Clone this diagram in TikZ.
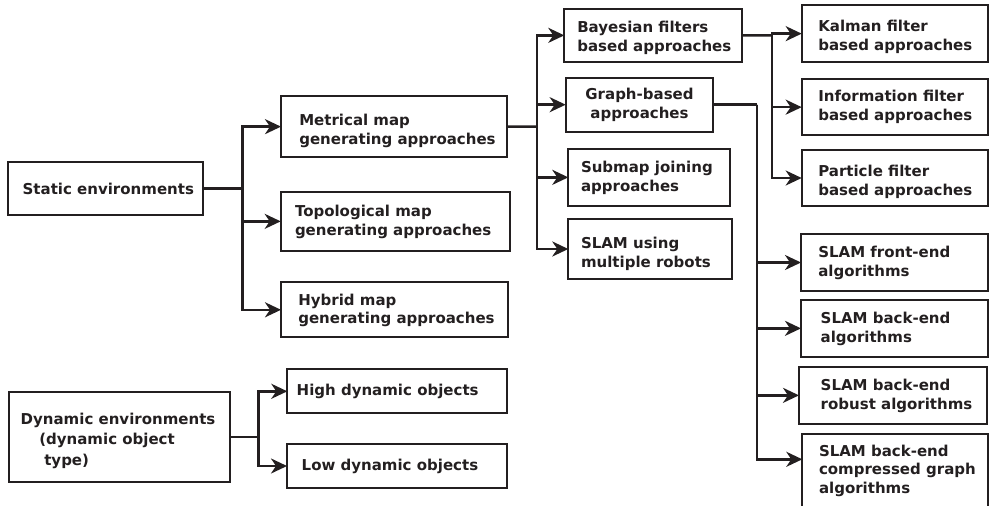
\documentclass[tikz,border=0pt]{standalone}
\usepackage{fontspec}
\setmainfont{DejaVu Sans}
\usetikzlibrary{arrows.meta}
\definecolor{ink}{HTML}{231F20}
\newcommand\LinesL[1]{\vtop{\baselineskip=18.7pt\lineskiplimit=-20pt\halign{##\hfil\cr#1\crcr}}}
\newcommand\LinesC[1]{\vtop{\baselineskip=18.7pt\lineskiplimit=-20pt\halign{\hfil##\hfil\cr#1\crcr}}}
\tikzset{
  box/.style={draw=ink, line width=2.2pt, inner sep=0pt, outer sep=0pt, anchor=north west},
  txt/.style={inner sep=0pt, outer sep=0pt, anchor=base west, text=ink,
              font=\fontsize{15}{18.7}\selectfont\bfseries},
  conn/.style={draw=ink, line width=2.5pt},
  arr/.style={conn, -{Stealth[length=16pt,width=15pt,inset=5pt]}},
}
\begin{document}
\begin{tikzpicture}[x=1pt,y=-1pt]
\useasboundingbox (0,0) rectangle (989,506);
% boxes
\node[box, minimum width=195pt, minimum height=53pt] (static) at (8,162) {};
\node[box, minimum width=226.3pt, minimum height=61.3pt] (metric) at (281,96) {};
\node[box, minimum width=229.3pt, minimum height=59.3pt] (topo) at (280.7,191.7) {};
\node[box, minimum width=227.3pt, minimum height=55pt] (hybrid) at (281,282.3) {};
\node[box, minimum width=178pt, minimum height=52.7pt] (bayes) at (564.3,9) {};
\node[box, minimum width=147.6pt, minimum height=54pt] (graph) at (565.7,77.7) {};
\node[box, minimum width=161.7pt, minimum height=56.7pt] (submap) at (568.3,149) {};
\node[box, minimum width=163.4pt, minimum height=60pt] (multi) at (568.3,219) {};
\node[box, minimum width=186.6pt, minimum height=57.3pt] (kalman) at (801.7,5) {};
\node[box, minimum width=186.6pt, minimum height=55.7pt] (info) at (801.7,79.3) {};
\node[box, minimum width=186.6pt, minimum height=56pt] (particle) at (801.7,150) {};
\node[box, minimum width=187.3pt, minimum height=57pt] (front) at (801,234) {};
\node[box, minimum width=187.3pt, minimum height=56.7pt] (back) at (801,300) {};
\node[box, minimum width=188.3pt, minimum height=57.3pt] (robust) at (799,366.7) {};
\node[box, minimum width=186pt, minimum height=72.5pt] (cmp) at (802.3,434.3) {};
\node[box, minimum width=220.7pt, minimum height=90.6pt] (dyn) at (9.3,391.7) {};
\node[box, minimum width=220pt, minimum height=44pt] (high) at (287.3,369.3) {};
\node[box, minimum width=220.3pt, minimum height=43.4pt] (low) at (287,444.3) {};
% texts
\node[txt] (static-t) at (22.7,194.3) {Static environments};
\node[txt] (metric-t) at (299.3,125.7) {\LinesL{Metrical map\cr generating approaches}};
\node[txt] (topo-t) at (295,216.7) {\LinesL{Topological map\cr generating approaches}};
\node[txt] (hybrid-t) at (298.3,305) {\LinesL{Hybrid map\cr generating approaches}};
\node[txt] (bayes-t) at (577.3,32.3) {\LinesL{Bayesian filters\cr based approaches}};
\node[txt, anchor=base] (graph-t) at (639.5,99.3) {\LinesC{Graph-based\cr approaches}};
\node[txt] (submap-t) at (581,172.7) {\LinesL{Submap joining\cr approaches}};
\node[txt] (multi-t) at (581,248.3) {\LinesL{SLAM using\cr multiple robots}};
\node[txt] (kalman-t) at (818.3,31.7) {\LinesL{Kalman filter\cr based approaches}};
\node[txt] (info-t) at (818.3,101.7) {\LinesL{Information filter\cr based approaches}};
\node[txt] (particle-t) at (818.3,176.7) {\LinesL{Particle filter\cr based approaches}};
\node[txt] (front-t) at (818.3,257.3) {\LinesL{SLAM front-end\cr algorithms}};
\node[txt] (back-t) at (820.7,323.3) {\LinesL{SLAM back-end\cr algorithms}};
\node[txt] (robust-t) at (820.7,390.7) {\LinesL{SLAM back-end\cr robust algorithms}};
\node[txt] (cmp-t) at (819,456) {\LinesL{SLAM back-end\cr compressed graph\cr algorithms}};
\node[txt] (dyn-t) at (20.7,424) {\vtop{\baselineskip=20.5pt\lineskiplimit=-20pt
  \hbox{Dynamic environments}\hbox{\kern18.6pt(dynamic object}\hbox{\kern23.6pt type)}}};
\node[txt] (high-t) at (296.7,395) {High dynamic objects};
\node[txt] (low-t) at (301.7,470) {Low dynamic objects};
% connectors
\coordinate (j1) at (242.5,188.5);
\draw[conn] (static.east) -- (j1);
\draw[arr] (j1) |- (metric.west);
\draw[arr] (j1) |- (topo.west);
\draw[arr] (j1) |- (hybrid.west);
\coordinate (j2) at (537,126.7);
\draw[conn] (metric.east) -- (j2);
\draw[arr] (j2) |- (bayes.west);
\draw[arr] (j2) |- (graph.west);
\draw[arr] (j2) |- (submap.west);
\draw[arr] (j2) |- (multi.west);
\coordinate (j3) at (772,35.3);
\draw[conn] (bayes.east) -- (j3);
\draw[arr] (j3) |- (kalman.west);
\draw[arr] (j3) |- (info.west);
\draw[arr] (j3) |- (particle.west);
\coordinate (j4) at (757,104.7);
\coordinate (cmpin) at ([yshift=-25pt]cmp.north west);
\draw[conn] (graph.east) -- (j4);
\draw[arr] (j4) |- (front.west);
\draw[arr] (j4) |- (back.west);
\draw[arr] (j4) |- (robust.west);
\draw[arr] (j4) |- (cmpin);
\coordinate (j5) at (258.3,437);
\draw[conn] (dyn.east) -- (j5);
\draw[arr] (j5) |- (high.west);
\draw[arr] (j5) |- (low.west);
\end{tikzpicture}
\end{document}
